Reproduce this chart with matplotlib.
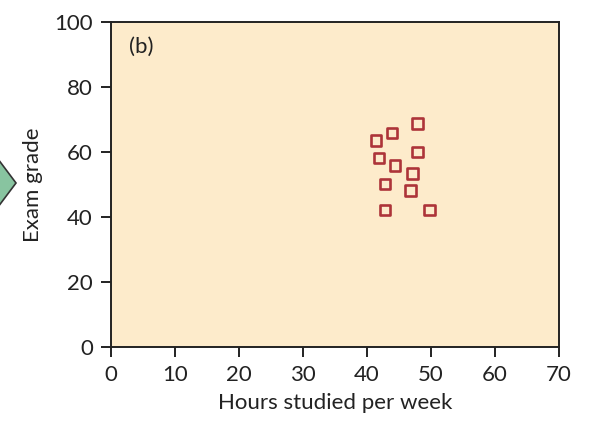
import matplotlib
matplotlib.use("Agg")
import matplotlib.pyplot as plt
from matplotlib.patches import Polygon

plt.rcParams['font.family'] = ['Lato', 'DejaVu Sans']

# hours studied per week vs exam grade
hours = [47.9, 43.9, 41.4, 47.9, 41.9, 44.4, 47.1, 42.8, 46.8, 42.8, 49.8]
grades = [68.8, 65.9, 63.5, 60.0, 58.1, 55.9, 53.4, 50.1, 48.2, 42.1, 42.1]
x_ticks = [0, 10, 20, 30, 40, 50, 60, 70]
y_ticks = [0, 20, 40, 60, 80, 100]

fs = 16

fig = plt.figure(figsize=(5.89, 4.26), dpi=100)
ax = fig.add_axes([0.1885, 0.1854, 0.7606, 0.7629])
ax.set_facecolor('#fdebcb')

ax.scatter(hours, grades, marker='s', s=58, facecolors='none',
           edgecolors='#ad3439', linewidths=1.9, zorder=3)

ax.set_xlim(0, 70)
ax.set_ylim(0, 100)
ax.set_xticks(x_ticks)
ax.set_yticks(y_ticks)
ax.tick_params(direction='out', length=7, width=1.4, labelsize=fs,
               colors='#222222', pad=6)
for sp in ax.spines.values():
    sp.set_linewidth(1.4)
    sp.set_color('#222222')

ax.set_xlabel('Hours studied per week', fontsize=fs, color='#222222', labelpad=6)
ax.set_ylabel('Exam grade', fontsize=fs, color='#222222', labelpad=8)
ax.text(0.04, 0.955, '(b)', transform=ax.transAxes, fontsize=fs,
        color='#222222', va='top', ha='left')

# green diamond arrow cut off at the left edge
diamond = Polygon([(16, 426 - 183), (-14, 426 - 143), (-44, 426 - 183), (-14, 426 - 223)],
                  closed=True, transform=None, facecolor='#88c4a0',
                  edgecolor='#333333', linewidth=1.2)
fig.patches.append(diamond)

fig.savefig('out.png', dpi=100)
